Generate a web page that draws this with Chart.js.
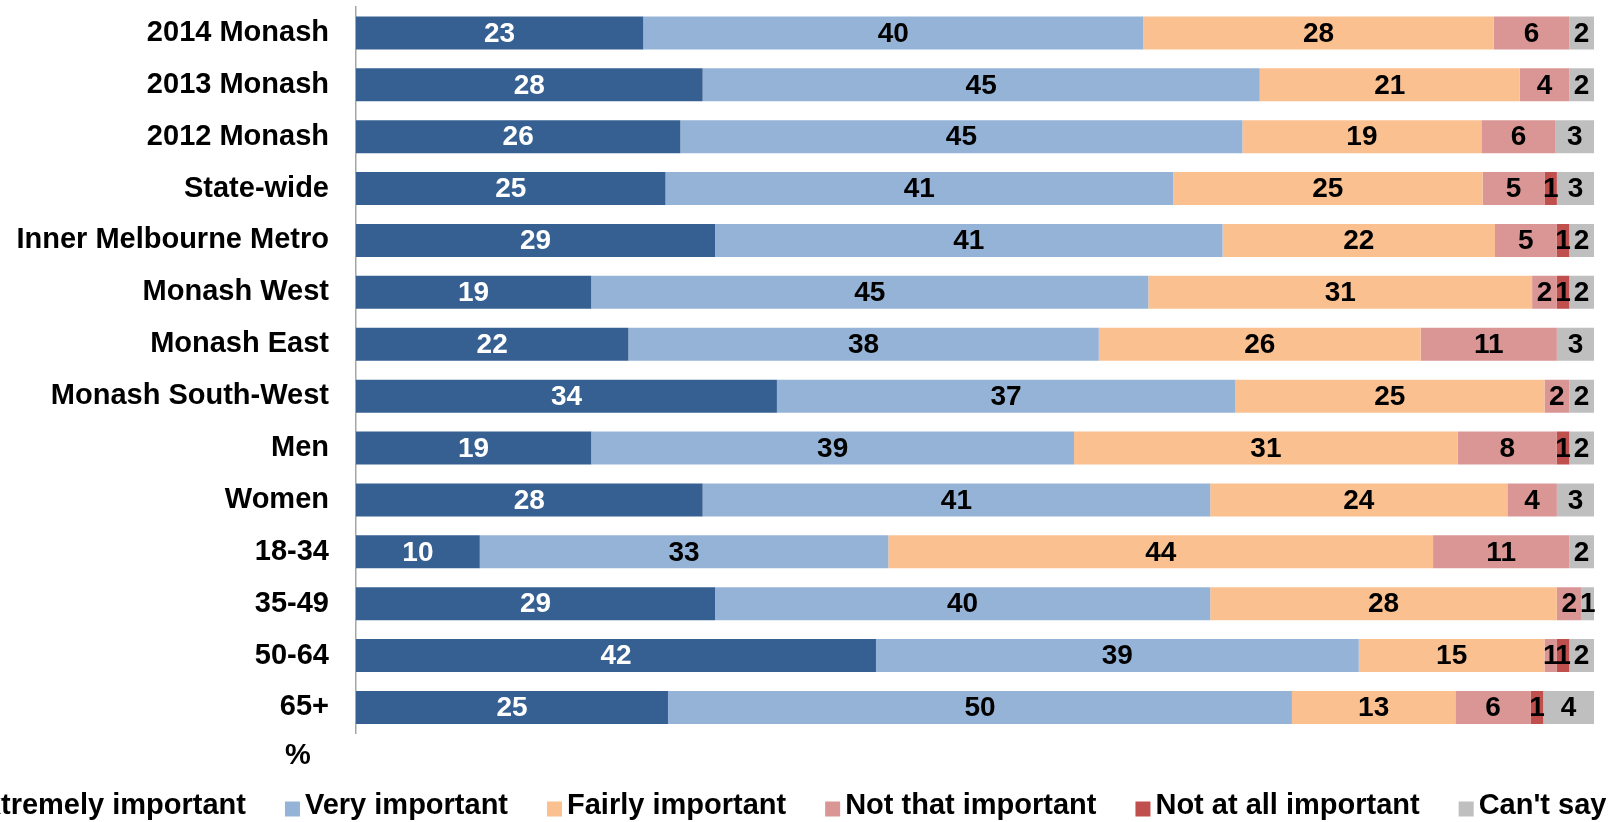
<!DOCTYPE html>
<html>
<head>
<meta charset="utf-8">
<style>
  html, body { margin: 0; padding: 0; background: #fff; overflow: hidden; }
  #wrap { width: 1608px; height: 822px; position: relative; }
</style>
<script src="https://cdn.jsdelivr.net/npm/chart.js@4/dist/chart.umd.min.js"></script>
</head>
<body>
<div id="wrap"><canvas id="importanceChart" width="1608" height="822"></canvas></div>
<script>
const groups = ["2014 Monash", "2013 Monash", "2012 Monash", "State-wide", "Inner Melbourne Metro",
    "Monash West", "Monash East", "Monash South-West", "Men", "Women", "18-34", "35-49", "50-64", "65+"];

const extremely = [23.2, 28, 26.2, 25, 29, 19, 22, 34, 19, 28, 10, 29, 42, 25.2];
const very      = [40.4, 45, 45.4, 41, 41, 45, 38, 37, 39, 41, 33, 40, 39, 50.4];
const fairly    = [28.3, 21, 19.3, 25, 22, 31, 26, 25, 31, 24, 44, 28, 15, 13.2];
const notThat   = [6.1, 4, 6.0, 5, 5, 2, 11, 2, 8, 4, 11, 2, 1, 6.1];
const notAtAll  = [0, 0, 0, 1, 1, 1, 0, 0, 1, 0, 0, 0, 1, 1.0];
const cantSay   = [2.0, 2, 3.1, 3, 2, 2, 3, 2, 2, 3, 2, 1, 2, 4.1];

const seriesNames = ["Extremely important", "Very important", "Fairly important",
    "Not that important", "Not at all important", "Can't say"];
const seriesColors = ["#366092", "#95B3D7", "#FAC090", "#DA9694", "#C0504D", "#BFBFBF"];
const seriesValues = [extremely, very, fairly, notThat, notAtAll, cantSay];

const FONT = "'Liberation Sans', Arial, sans-serif";

// value labels in the middle of each segment
const segmentLabels = {
    id: "segmentLabels",
    afterDatasetsDraw(chart) {
        const ctx = chart.ctx;
        ctx.save();
        ctx.font = "bold 28px " + FONT;
        ctx.textAlign = "center";
        ctx.textBaseline = "middle";
        chart.data.datasets.forEach((ds, i) => {
            const meta = chart.getDatasetMeta(i);
            meta.data.forEach((bar, j) => {
                const v = Math.round(ds.data[j]);
                if (!v) return;
                const p = bar.getProps(["x", "y", "base"], true);
                ctx.fillStyle = i === 0 ? "#fff" : "#000";
                ctx.fillText(String(v), (p.x + p.base) / 2, p.y + 1);
            });
        });
        ctx.restore();
    }
};

// legend along the bottom, wider than the canvas like the original
const bottomLegend = {
    id: "bottomLegend",
    afterDraw(chart) {
        const ctx = chart.ctx;
        const box = 15, gap = 5, spacing = 39;
        ctx.save();
        ctx.font = "bold 29px " + FONT;
        const items = chart.data.datasets.map(ds => ({
            text: ds.label, color: ds.backgroundColor, w: ctx.measureText(ds.label).width
        }));
        const total = items.reduce((s, it) => s + box + gap + it.w, 0) + spacing * (items.length - 1);
        let x = 776 - total / 2;
        ctx.textBaseline = "middle";
        ctx.textAlign = "left";
        items.forEach(it => {
            ctx.fillStyle = it.color;
            ctx.fillRect(x, 801.5, box, box);
            ctx.fillStyle = "#000";
            ctx.fillText(it.text, x + box + gap, 806);
            x += box + gap + it.w + spacing;
        });
        // axis unit
        ctx.textAlign = "center";
        ctx.fillText("%", 298, 756);
        ctx.restore();
    }
};

new Chart(document.getElementById("importanceChart"), {
    type: "bar",
    data: {
        labels: groups,
        datasets: seriesNames.map((name, i) => ({
            label: name,
            data: seriesValues[i],
            backgroundColor: seriesColors[i],
            borderWidth: 0,
            barPercentage: 0.636,
            categoryPercentage: 1
        }))
    },
    options: {
        indexAxis: "y",
        responsive: false,
        animation: false,
        layout: { autoPadding: false, padding: { top: 7, bottom: 88.6, left: 0, right: 14 } },
        plugins: {
            legend: { display: false },
            tooltip: { enabled: false }
        },
        scales: {
            x: {
                stacked: true,
                min: 0,
                max: 100,
                display: false
            },
            y: {
                stacked: true,
                grid: { display: false, drawTicks: false },
                border: { display: true, color: "#a6a6a6", width: 1.5 },
                ticks: {
                    color: "#000",
                    padding: 27,
                    font: { family: FONT, size: 29, weight: "bold" }
                },
                afterFit: scale => {
                    scale.width = 356;
                    scale.paddingTop = 0;
                    scale.paddingBottom = 0;
                }
            }
        }
    },
    plugins: [segmentLabels, bottomLegend]
});
</script>
</body>
</html>
